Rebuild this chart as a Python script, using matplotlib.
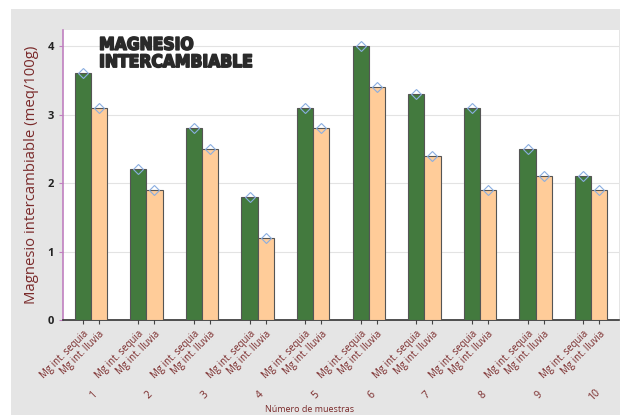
import numpy as np
import matplotlib
matplotlib.use("Agg")
import matplotlib.pyplot as plt
import matplotlib.patheffects as pe
from matplotlib.patches import Rectangle
from matplotlib.transforms import blended_transform_factory

muestras = ['1', '2', '3', '4', '5', '6', '7', '8', '9', '10']
series = ['Mg int. sequia', 'Mg int. lluvia']
sequia = [3.6, 2.2, 2.8, 1.8, 3.1, 4.0, 3.3, 3.1, 2.5, 2.1]
lluvia = [3.1, 1.9, 2.5, 1.2, 2.8, 3.4, 2.4, 1.9, 2.1, 1.9]

plt.rcParams['font.family'] = ['Open Sans', 'DejaVu Sans']
rojo = '#7a2a2a'

fig = plt.figure(figsize=(6.2, 4.15), dpi=100)
fig.patch.set_facecolor('white')
# fondo gris del panel
fig.patches.append(Rectangle((11/620, 0), 1 - 11/620, 1 - 9/415,
                             transform=fig.transFigure, facecolor='#e5e5e5',
                             edgecolor='none', zorder=-10))

ax = fig.add_axes([63/620, 95/415, 556/620, 290/415])
ax.set_facecolor('white')

x = np.arange(len(muestras))
w = 0.29
ax.bar(x - w/2, sequia, w, color='#437a3e', edgecolor='#555555', linewidth=0.8, zorder=3)
ax.bar(x + w/2, lluvia, w, color='#ffcc99', edgecolor='#555555', linewidth=0.8, zorder=3)
ax.plot(x - w/2, sequia, 'D', ms=5, mfc='none', mec='#8aaee0', mew=0.8, zorder=4)
ax.plot(x + w/2, lluvia, 'D', ms=5, mfc='none', mec='#8aaee0', mew=0.8, zorder=4)

ax.set_xlim(-0.5, 9.5)
ax.set_ylim(0, 4.235)
ax.set_yticks([0, 1, 2, 3, 4])
ax.yaxis.grid(True, color='#e3e3e3', linewidth=0.8, zorder=0)
ax.tick_params(axis='y', labelsize=8, colors='#c080c0', labelcolor='#222222', length=3)
for lab in ax.get_yticklabels():
    lab.set_fontweight('bold')

pos = np.concatenate([x - w/2, x + w/2])
labs = [series[0]] * len(x) + [series[1]] * len(x)
ax.set_xticks(pos)
ax.set_xticklabels(labs, rotation=45, ha='right', rotation_mode='anchor',
                   fontsize=6.9, color=rojo)
ax.tick_params(axis='x', length=3, color='#444444', pad=3)

tr = blended_transform_factory(ax.transData, ax.transAxes)
for i, m in enumerate(muestras):
    ax.text(i + 0.05, -0.26, m, transform=tr, rotation=45, ha='center', va='center',
            fontsize=7.5, color=rojo)

ax.set_ylabel('Magnesio intercambiable (meq/100g)', color=rojo, fontsize=10.7, labelpad=6)
fig.text(0.5, 0.003, 'Número de muestras', ha='center', va='bottom', fontsize=6.5, color=rojo)

for s in ['top', 'right']:
    ax.spines[s].set_visible(False)
ax.spines['left'].set_color('#c080c0')
ax.spines['left'].set_linewidth(1.2)
ax.spines['bottom'].set_color('#333333')
ax.spines['bottom'].set_linewidth(1.2)

ax.text(0.065, 0.98, 'MAGNESIO\nINTERCAMBIABLE', transform=ax.transAxes, ha='left', va='top',
        fontsize=12.5, fontweight='heavy', family='DejaVu Sans', fontstretch='condensed',
        color='#2a2a2a', linespacing=0.95, zorder=5,
        path_effects=[pe.withStroke(linewidth=1.2, foreground='#2a2a2a')])

fig.savefig('out.png', dpi=100)
